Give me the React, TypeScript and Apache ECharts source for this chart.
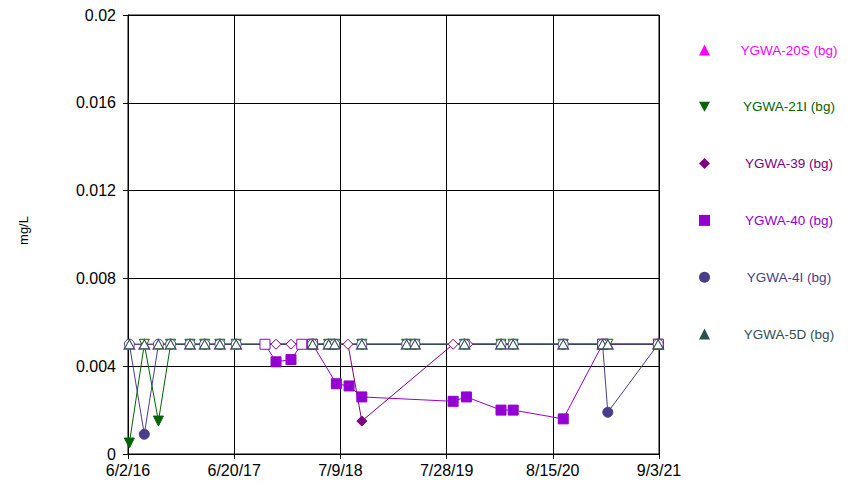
import React, { useEffect, useRef } from 'react';
import * as echarts from 'echarts';

// ---- Data ----
const X_TICK_LABELS = ['6/2/16', '6/20/17', '7/9/18', '7/28/19', '8/15/20', '9/3/21'];
const X_START = '6/2/16';
const X_END = '9/3/21';
const Y_MIN = 0;
const Y_MAX = 0.02;
const Y_STEP = 0.004;
const NON_DETECT = 0.005; // reporting limit; plotted hollow

const COMMON_DATES = [
  '6/7/16', '7/31/16', '9/20/16', '11/3/16', '1/12/17', '3/6/17', '4/30/17', '6/28/17',
  '3/31/18', '5/28/18', '6/19/18', '9/25/18', '3/6/19', '4/5/19', '10/1/19',
  '2/10/20', '3/25/20', '9/22/20', '2/11/21', '3/2/21', '8/31/21',
];
const YGWA_20S = [
  0.005, 0.005, 0.005, 0.005, 0.005, 0.005, 0.005, 0.005,
  0.005, 0.005, 0.005, 0.005, 0.005, 0.005, 0.005,
  0.005, 0.005, 0.005, 0.005, 0.005, 0.005,
];
const YGWA_21I = [
  0.0005, 0.005, 0.0015, 0.005, 0.005, 0.005, 0.005, 0.005,
  0.005, 0.005, 0.005, 0.005, 0.005, 0.005, 0.005,
  0.005, 0.005, 0.005, 0.005, 0.005, 0.005,
];
const YGWA_4I = [
  0.005, 0.0009, 0.005, 0.005, 0.005, 0.005, 0.005, 0.005,
  0.005, 0.005, 0.005, 0.005, 0.005, 0.005, 0.005,
  0.005, 0.005, 0.005, 0.005, 0.0019, 0.005,
];
const YGWA_5D = [
  0.005, 0.005, 0.005, 0.005, 0.005, 0.005, 0.005, 0.005,
  0.005, 0.005, 0.005, 0.005, 0.005, 0.005, 0.005,
  0.005, 0.005, 0.005, 0.005, 0.005, 0.005,
];
const YGWA_39_DATES = [
  '10/10/17', '11/19/17', '1/12/18', '2/20/18', '8/6/18', '9/25/18',
  '8/21/19', '10/13/19', '2/11/21', '8/31/21',
];
const YGWA_39 = [0.005, 0.005, 0.005, 0.005, 0.005, 0.0015, 0.005, 0.005, 0.005, 0.005];
const YGWA_40_DATES = [
  '10/10/17', '11/19/17', '1/12/18', '2/20/18', '3/31/18', '6/25/18', '8/10/18', '9/25/18',
  '8/21/19', '10/8/19', '2/10/20', '3/25/20', '9/22/20', '2/11/21', '9/1/21',
];
const YGWA_40 = [
  0.005, 0.0042, 0.0043, 0.005, 0.005, 0.0032, 0.0031, 0.0026,
  0.0024, 0.0026, 0.002, 0.002, 0.0016, 0.005, 0.005,
];

const SERIES_NAMES = [
  'YGWA-20S (bg)', 'YGWA-21I (bg)', 'YGWA-39 (bg)', 'YGWA-40 (bg)', 'YGWA-4I (bg)', 'YGWA-5D (bg)',
];

// ---- Helpers ----
const DAY = 86400000;
function toUTC(s: string): number {
  const [m, d, y] = s.split('/').map(Number);
  return Date.UTC(2000 + y, m - 1, d);
}
const T0 = toUTC(X_START);
function dayOffset(s: string): number {
  return (toUTC(s) - T0) / DAY;
}
const X_MAX = dayOffset(X_END);
const X_STEP = X_MAX / (X_TICK_LABELS.length - 1);

const FONT = '"Liberation Sans", Arial, sans-serif';
const DOWN_TRI = 'path://M0,0L10,0L5,9Z';

const STYLES = [
  { color: '#FF00FF', symbol: 'triangle', size: [11, 10] },
  { color: '#006400', symbol: DOWN_TRI, size: [10, 10] },
  { color: '#800080', symbol: 'diamond', size: [10, 10] },
  { color: '#9400D3', symbol: 'rect', size: [10, 10] },
  { color: '#483D8B', symbol: 'circle', size: [10, 10] },
  { color: '#2F4F4F', symbol: 'triangle', size: [10, 9] },
];

function buildSeries(idx: number, dates: string[], values: number[]) {
  const st = STYLES[idx];
  return {
    name: SERIES_NAMES[idx],
    type: 'line',
    symbol: st.symbol,
    symbolSize: st.size,
    showAllSymbol: true,
    lineStyle: { color: st.color, width: 1 },
    itemStyle: { color: st.color, borderColor: st.color, borderWidth: 1 },
    emphasis: { disabled: true },
    data: dates.map((d, i) => {
      const v = values[i];
      const hollow = v === NON_DETECT;
      return {
        value: [dayOffset(d), v],
        itemStyle: hollow
          ? { color: '#FFFFFF', borderColor: st.color, borderWidth: 1 }
          : { color: st.color, borderColor: st.color, borderWidth: 1 },
      };
    }),
  };
}

export default function App() {
  const ref = useRef<HTMLDivElement>(null);
  useEffect(() => {
    if (!ref.current) return;
    const chart = echarts.init(ref.current, undefined, { renderer: 'svg' });
    const series = [
      buildSeries(0, COMMON_DATES, YGWA_20S),
      buildSeries(1, COMMON_DATES, YGWA_21I),
      buildSeries(2, YGWA_39_DATES, YGWA_39),
      buildSeries(3, YGWA_40_DATES, YGWA_40),
      buildSeries(4, COMMON_DATES, YGWA_4I),
      buildSeries(5, COMMON_DATES, YGWA_5D),
    ];
    chart.setOption({
      animation: false,
      backgroundColor: '#FFFFFF',
      textStyle: { fontFamily: FONT },
      grid: {
        left: 128, right: 201, top: 15, bottom: 35,
        show: true, borderColor: '#000000', borderWidth: 1, backgroundColor: 'transparent',
      },
      legend: {
        orient: 'vertical',
        left: 694,
        top: 38,
        itemWidth: 11,
        itemHeight: 11,
        itemGap: 42.8,
        selectedMode: false,
        formatter: (name: string) => `{t|${name}}`,
        textStyle: {
          fontFamily: FONT,
          fontSize: 13.5,
          rich: { t: { width: 148, align: 'center', fontSize: 13.5, lineHeight: 16, fontFamily: FONT } },
        },
        data: SERIES_NAMES.map((n, i) => ({
          name: n,
          icon: STYLES[i].symbol,
          itemStyle: { color: STYLES[i].color, borderWidth: 0 },
          textStyle: { color: STYLES[i].color },
        })),
      },
      xAxis: {
        type: 'value',
        min: 0,
        max: X_MAX,
        interval: X_STEP,
        axisLine: { show: true, onZero: false, lineStyle: { color: '#000000', width: 1 } },
        axisTick: { show: true, length: 5, lineStyle: { color: '#000000' } },
        splitLine: { show: true, lineStyle: { color: '#000000', width: 1 } },
        axisLabel: {
          color: '#000000', fontSize: 16, fontFamily: FONT, margin: 8,
          formatter: (v: number) => X_TICK_LABELS[Math.round(v / X_STEP)] ?? '',
        },
      },
      yAxis: {
        type: 'value',
        min: Y_MIN,
        max: Y_MAX,
        interval: Y_STEP,
        name: 'mg/L',
        nameLocation: 'middle',
        nameGap: 98,
        nameTextStyle: { color: '#000000', fontSize: 13, fontFamily: FONT, padding: [0, 0, 0, 8] },
        axisLine: { show: true, lineStyle: { color: '#000000', width: 1 } },
        axisTick: { show: true, length: 5, lineStyle: { color: '#000000' } },
        splitLine: { show: true, lineStyle: { color: '#000000', width: 1 } },
        axisLabel: {
          color: '#000000', fontSize: 16, fontFamily: FONT, margin: 12,
          formatter: (v: number) => String(Number(v.toFixed(3))),
        },
      },
      series,
    });
    return () => chart.dispose();
  }, []);
  return (
    <div
      ref={ref}
      style={{ position: 'absolute', left: 0, top: 0, width: 860, height: 489 }}
    />
  );
}
